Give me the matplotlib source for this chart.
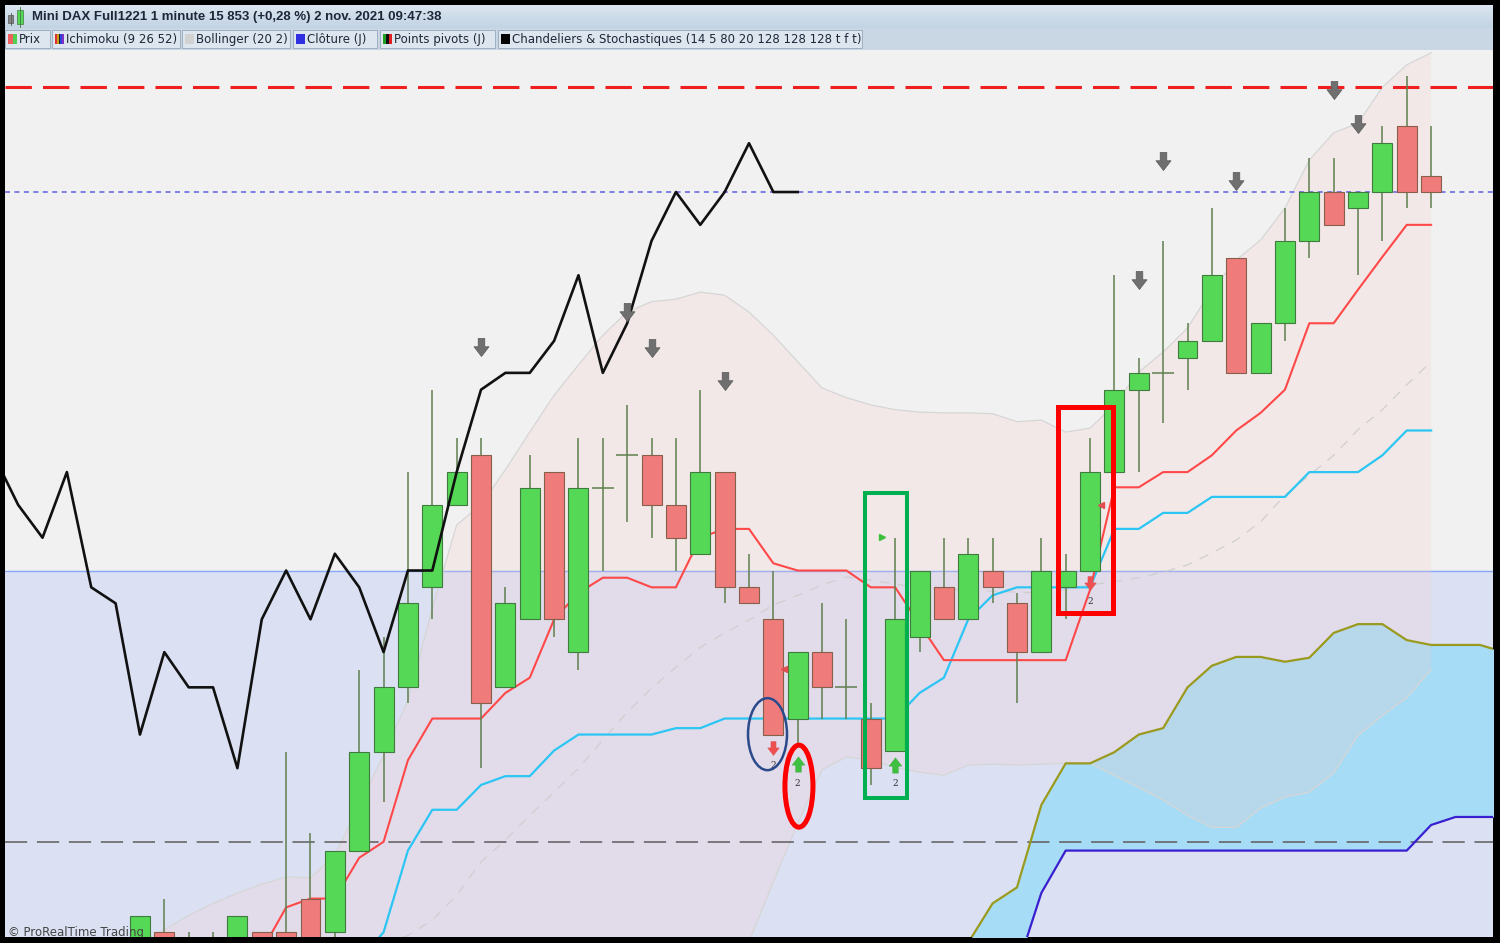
"""
Mini DAX 1 minute chart (ProRealTime style): candles, Ichimoku, Bollinger,
pivot levels and a few hand-drawn annotation shapes.
"""

import matplotlib
matplotlib.use("Agg")
import matplotlib.pyplot as plt
import numpy as np
from matplotlib.patches import Ellipse, Rectangle
from matplotlib.path import Path

plt.rcParams["lines.scale_dashes"] = False

# ===== Candles (index 0..53) =====
opens = [15757.0, 15760.5, 15759.0, 15759.2, 15757.5, 15760.5, 15760.5, 15764.7, 15760.5, 15770.7,
         15783.0, 15791.1, 15803.6, 15813.9, 15820.1, 15791.1, 15799.6, 15818.0, 15795.5, 15816.0,
         15820.1, 15820.1, 15813.9, 15807.8, 15818.0, 15803.6, 15799.6, 15787.2, 15795.5, 15791.1,
         15787.2, 15783.2, 15797.4, 15803.6, 15799.6, 15805.7, 15801.6, 15795.5, 15803.6, 15805.7,
         15818.0, 15828.3, 15830.4, 15832.3, 15834.4, 15844.8, 15830.4, 15836.6, 15846.9, 15853.0,
         15851.0, 15853.0, 15861.3, 15855.0]
highs = [15762.5, 15764.7, 15760.5, 15760.5, 15762.5, 15760.5, 15783.0, 15772.9, 15770.7, 15793.3,
         15797.4, 15818.0, 15828.3, 15822.2, 15822.2, 15803.6, 15820.1, 15818.0, 15822.2, 15822.2,
         15826.4, 15822.2, 15822.2, 15828.3, 15818.0, 15807.8, 15805.7, 15795.5, 15801.6, 15799.6,
         15789.2, 15809.8, 15805.7, 15809.8, 15809.8, 15809.8, 15802.9, 15809.8, 15807.8, 15822.2,
         15842.6, 15832.3, 15846.9, 15836.6, 15851.0, 15844.8, 15836.6, 15851.0, 15857.3, 15857.3,
         15853.0, 15861.3, 15867.5, 15861.3]
lows = [15755.8, 15757.0, 15757.0, 15757.0, 15756.0, 15756.5, 15757.0, 15757.0, 15759.8, 15770.7,
        15776.8, 15789.2, 15799.6, 15813.9, 15781.0, 15791.1, 15799.6, 15797.4, 15793.3, 15805.7,
        15811.8, 15809.8, 15805.7, 15807.8, 15801.6, 15801.6, 15785.2, 15784.1, 15787.2, 15787.2,
        15778.9, 15783.2, 15795.5, 15799.6, 15799.6, 15801.6, 15789.2, 15795.5, 15799.6, 15805.7,
        15818.0, 15818.0, 15824.1, 15828.3, 15834.4, 15830.4, 15830.4, 15834.4, 15844.8, 15848.9,
        15842.6, 15846.9, 15851.0, 15851.0]
closes = [15762.5, 15758.2, 15758.5, 15759.5, 15762.5, 15758.0, 15758.5, 15758.8, 15770.7, 15783.0,
          15791.1, 15801.6, 15813.9, 15818.0, 15789.2, 15801.6, 15816.0, 15799.6, 15816.0, 15816.0,
          15820.1, 15813.9, 15809.8, 15818.0, 15803.6, 15801.6, 15785.2, 15795.5, 15791.1, 15791.1,
          15781.0, 15799.6, 15805.7, 15799.6, 15807.8, 15803.6, 15795.5, 15805.7, 15805.7, 15818.0,
          15828.3, 15830.4, 15830.4, 15834.4, 15842.6, 15830.4, 15836.6, 15846.9, 15853.0, 15848.9,
          15853.0, 15859.1, 15853.0, 15853.0]

# ===== Ichimoku (9 26 52) =====
tenkan_start = 5
tenkan = [15758.2, 15763.6, 15764.7, 15764.7, 15769.8, 15771.8, 15782.0, 15787.2, 15787.2, 15787.2,
          15790.4, 15792.3, 15799.6, 15802.9, 15804.8, 15804.8, 15803.6, 15803.6, 15809.8, 15810.9,
          15810.9, 15806.6, 15805.7, 15805.7, 15805.7, 15803.6, 15803.6, 15799.0, 15794.5, 15794.5,
          15794.5, 15794.5, 15794.5, 15794.5, 15803.3, 15816.1, 15816.1, 15818.0, 15818.0, 15820.1,
          15823.2, 15825.4, 15828.3, 15836.6, 15836.6, 15840.8, 15844.9, 15848.9, 15848.9]
kijun_start = 9
kijun = [15757.0, 15760.5, 15770.7, 15775.8, 15775.8, 15778.9, 15780.0, 15780.0, 15783.2, 15785.2,
         15785.2, 15785.2, 15785.2, 15786.0, 15786.0, 15787.2, 15787.2, 15787.2, 15787.2, 15787.2,
         15787.2, 15787.2, 15787.2, 15790.4, 15792.3, 15799.6, 15802.6, 15803.6, 15803.6, 15803.6,
         15803.6, 15810.9, 15810.9, 15812.9, 15812.9, 15814.9, 15814.9, 15814.9, 15814.9, 15818.0,
         15818.0, 15818.0, 15820.1, 15823.2, 15823.2]
senkou_start = 33
senkou_a = [15752.0, 15759.2, 15764.1, 15766.1, 15776.4, 15781.6, 15781.6, 15783.0, 15785.2, 15786.0,
            15791.1, 15793.8, 15794.9, 15794.9, 15794.3, 15794.8, 15797.9, 15799.0, 15799.0, 15797.0,
            15796.4, 15796.4, 15796.4, 15795.5]
senkou_b = [15745.0, 15748.0, 15752.0, 15756.0, 15765.4, 15770.7, 15770.7, 15770.7, 15770.7, 15770.7,
            15770.7, 15770.7, 15770.7, 15770.7, 15770.7, 15770.7, 15770.7, 15770.7, 15770.7, 15770.7,
            15773.9, 15774.9, 15774.9, 15774.9]

# ===== Bollinger (20 2) =====
boll_upper = [15758.2, 15760.8, 15762.6, 15764.1, 15765.4, 15766.5, 15767.4, 15767.3, 15770.1, 15776.4,
              15782.6, 15789.5, 15801.0, 15811.4, 15813.9, 15818.3, 15823.0, 15827.6, 15831.4, 15835.1,
              15838.0, 15839.3, 15839.6, 15840.5, 15840.1, 15838.0, 15835.1, 15831.8, 15828.5, 15827.3,
              15826.4, 15825.8, 15825.5, 15825.4, 15825.4, 15825.3, 15824.3, 15824.5, 15823.0, 15823.5,
              15826.4, 15830.5, 15833.0, 15836.0, 15840.8, 15844.5, 15847.0, 15851.0, 15857.0, 15860.4,
              15861.6, 15866.1, 15868.9, 15870.4]
boll_lower = [15740.0, 15741.0, 15742.0, 15742.0, 15743.0, 15743.0, 15744.0, 15745.0, 15745.0, 15744.0,
              15742.0, 15740.0, 15738.0, 15736.0, 15735.0, 15736.0, 15737.0, 15738.0, 15740.0, 15742.0,
              15744.0, 15747.0, 15750.0, 15752.0, 15755.0, 15759.3, 15766.8, 15774.1, 15780.8, 15782.4,
              15782.0, 15781.1, 15780.5, 15780.1, 15781.4, 15781.5, 15781.4, 15781.5, 15781.6, 15781.6,
              15780.1, 15778.6, 15777.0, 15775.1, 15773.6, 15773.6, 15776.0, 15777.4, 15778.0, 15780.4,
              15785.1, 15787.6, 15789.8, 15793.3]
mid_start = 10
boll_mid = [15758.9, 15760.1, 15762.0, 15765.1, 15769.3, 15772.0, 15775.1, 15778.0, 15781.0, 15784.5,
            15788.0, 15791.0, 15793.6, 15796.1, 15797.9, 15799.5, 15801.4, 15802.6, 15803.9, 15804.9,
            15804.5, 15804.0, 15803.5, 15803.3, 15803.3, 15803.1, 15803.0, 15802.9, 15803.3, 15803.9,
            15804.3, 15804.8, 15805.5, 15806.4, 15807.9, 15809.5, 15811.8, 15815.1, 15817.6, 15820.1,
            15823.3, 15825.8, 15828.9, 15831.8]

# ===== Horizontal levels =====
PIVOT_R1 = 15866.1      # red dashed
LAST_PRICE = 15853.0    # blue dotted
PREV_CLOSE = 15805.7    # Clôture (J)
PIVOT_P = 15771.8       # dark dashed

# ===== Signals =====
sell_x = [14, 20, 21, 24, 41, 42, 45, 49, 50]
sell_y = [15833.6, 15838.0, 15833.5, 15829.4, 15842.0, 15856.9, 15854.4, 15865.8, 15861.5]
red_sig_x = [26, 39]
red_sig_y = [15783.5, 15804.1]
green_sig_x = [27, 31]
green_sig_y = [15781.5, 15781.4]
count_x = [26, 27, 31, 39]
count_y = [15781.9, 15779.6, 15779.6, 15802.4]
count_txt = ["2", "2", "2", "2"]
tri_red_x = [26.45, 39.45]
tri_red_y = [15793.4, 15813.9]
tri_green_x = [30.46]
tri_green_y = [15809.9]

# ===== Hand drawn marks: (x, y, width, height) =====
ellipses = [(25.76, 15785.25, 1.6, 9.0, "#2b4a8c", 1.8),
            (27.05, 15778.75, 1.15, 10.25, "#ff0000", 3.6)]
boxes = [(29.76, 15777.25, 1.73, 38.1, "#00b050", 2.9),
         (37.68, 15800.4, 2.26, 25.75, "#ff0000", 3.6)]

XLIM = (-5.54, 55.54)
YLIM = (15759.9, 15870.75)

W, H = 1500, 943
fig = plt.figure(figsize=(W / 100, H / 100), dpi=100)
fig.patch.set_facecolor("black")


def bare(a):
    a.set_xticks([])
    a.set_yticks([])
    for s in a.spines.values():
        s.set_visible(False)


ax = fig.add_axes([5 / W, 6 / H, 1488 / W, 887 / H])
ax.set_facecolor("#f1f1f1")
ax.set_xlim(*XLIM)
ax.set_ylim(*YLIM)
bare(ax)

# background zone under the previous close
ax.axhspan(YLIM[0] - 50, PREV_CLOSE, color="#dbe1f3", zorder=0)
ax.axhline(PREV_CLOSE, color="#86aaf6", lw=1.0, zorder=1)

# Kumo
sx = np.arange(senkou_start, senkou_start + len(senkou_a))
sa = np.array(senkou_a)
sb = np.array(senkou_b)
ax.fill_between(sx, sa, sb, where=sa >= sb, color="#a6dcf5", lw=0, zorder=1.2)

# Bollinger
bx = np.arange(len(boll_upper))
ax.fill_between(bx, boll_lower, boll_upper, color=(1.0, 0.78, 0.78), alpha=0.2, lw=0, zorder=1.5)
ax.plot(bx, boll_upper, color="#d6d6d6", lw=0.9, zorder=1.6)
ax.plot(bx, boll_lower, color="#d6d6d6", lw=0.9, zorder=1.6)
mx = np.arange(mid_start, mid_start + len(boll_mid))
ax.plot(mx, boll_mid, color="#cfcfcf", lw=0.9, dashes=(7, 6), zorder=1.6)

# levels
ax.axhline(PIVOT_R1, color="#f01e1e", lw=2.2, dashes=(19, 8), zorder=2)
ax.axhline(LAST_PRICE, color="#7474e6", lw=1.3, dashes=(3.6, 3.2), zorder=2)
ax.axhline(PIVOT_P, color="#5c5c5c", lw=1.1, dashes=(16, 7), zorder=2)

# Ichimoku lines
ax.plot(sx, senkou_a, color="#9a9a1e", lw=1.6, zorder=3)
ax.plot(sx, senkou_b, color="#3a1fd0", lw=1.6, zorder=3)
ax.plot(np.arange(kijun_start, kijun_start + len(kijun)), kijun, color="#2cc6f4", lw=1.6, zorder=3)
ax.plot(np.arange(tenkan_start, tenkan_start + len(tenkan)), tenkan, color="#ff4848", lw=1.5, zorder=3)

# Candles
o = np.array(opens)
c = np.array(closes)
idx = np.arange(len(o))
up = c >= o
doji = np.abs(c - o) < 0.3
ax.vlines(idx, lows, highs, color="#5f7f4f", lw=1.1, zorder=4)
body = ~doji
ax.bar(idx[body & up], (c - o)[body & up], bottom=o[body & up], width=0.82,
       color="#55d855", edgecolor="#3f7a3f", lw=0.8, zorder=5)
ax.bar(idx[body & ~up], (o - c)[body & ~up], bottom=c[body & ~up], width=0.82,
       color="#ef7b7b", edgecolor="#86604a", lw=0.8, zorder=5)
ax.hlines(c[doji], idx[doji] - 0.45, idx[doji] + 0.45, color="#5f7f4f", lw=1.1, zorder=5)

# Chikou span: close shifted 26 periods back
ax.plot(idx[20:] - 26, closes[20:], color="#111111", lw=1.9, zorder=6)

# Signal markers
down_arrow = Path([(-0.22, 0.6), (0.22, 0.6), (0.22, 0.05), (0.5, 0.05), (0, -0.6),
                   (-0.5, 0.05), (-0.22, 0.05), (-0.22, 0.6)])
up_arrow = Path([(x, -y) for x, y in down_arrow.vertices])
ax.plot(sell_x, sell_y, ls="none", marker=down_arrow, ms=13, color="#6f6f6f",
        mec="#5a5a5a", mew=0.5, zorder=7)
ax.plot(red_sig_x, red_sig_y, ls="none", marker=down_arrow, ms=10, color="#ee5050",
        mec="#e04848", mew=0.3, zorder=7)
ax.plot(green_sig_x, green_sig_y, ls="none", marker=up_arrow, ms=11, color="#3fbf3f",
        mec="#35a835", mew=0.3, zorder=7)
ax.plot(tri_red_x, tri_red_y, ls="none", marker="<", ms=4, color="#e05050", zorder=7)
ax.plot(tri_green_x, tri_green_y, ls="none", marker=">", ms=5, color="#3cc03c", zorder=7)
for x, y, t in zip(count_x, count_y, count_txt):
    ax.text(x, y, t, ha="center", va="top", fontsize=6.5, color="#333333",
            family="DejaVu Serif", zorder=7)

# annotations
for x, y, w, h, col, lw in ellipses:
    ax.add_patch(Ellipse((x, y), w, h, fill=False, ec=col, lw=lw, zorder=10))
for x, y, w, h, col, lw in boxes:
    ax.add_patch(Rectangle((x, y), w, h, fill=False, ec=col, lw=lw, zorder=10))

ax.text(0.002, 0.012, "© ProRealTime Trading", transform=ax.transAxes, ha="left", va="top",
        fontsize=8.5, color="#444444", clip_on=True, zorder=8)

# ===== Header (title bar + indicator buttons) =====
hdr = fig.add_axes([5 / W, 1 - 50 / H, 1488 / W, 45 / H])
bare(hdr)

grad = np.linspace(0, 1, 32)[:, None, None]
top_col = np.array([0.86, 0.90, 0.94])
bot_col = np.array([0.76, 0.83, 0.89])
hdr.imshow(top_col + (bot_col - top_col) * grad, extent=(0, 1488, 23, 0), aspect="auto")
hdr.add_patch(Rectangle((0, 23), 1488, 22, fc="#c9d6e3", ec="none"))
hdr.set_xlim(0, 1488)
hdr.set_ylim(45, 0)

# icon
hdr.add_patch(Rectangle((3, 10), 5, 8, fc="#888888", ec="#555555", lw=0.5))
hdr.plot([5.5, 5.5], [8, 20], color="#555555", lw=0.6)
hdr.add_patch(Rectangle((12, 5), 6, 14, fc="#55d855", ec="#3f7a3f", lw=0.5))
hdr.plot([15, 15], [2, 22], color="#3f7a3f", lw=0.6)

hdr.text(27, 12, "Mini DAX Full1221 1 minute 15 853 (+0,28 %) 2 nov. 2021 09:47:38",
         fontsize=9.5, fontweight="bold", color="#1c2838", va="center", ha="left",
         family="Liberation Sans")

button_labels = ["Prix", "Ichimoku (9 26 52)", "Bollinger (20 2)", "Clôture (J)",
                 "Points pivots (J)", "Chandeliers & Stochastiques (14 5 80 20 128 128 128 t f t)"]
button_left = [0, 47, 177, 288, 375, 493]
button_right = [45, 175, 285, 372, 490, 857]
swatches = [["#f06060", "#50d050"],
            ["#e03030", "#c8a020", "#202020", "#3040e0", "#8030c0"],
            ["#d2d2d2"],
            ["#3030e0"],
            ["#20a020", "#101010", "#e02020"],
            ["#050505"]]
for lab, x0, x1, sw in zip(button_labels, button_left, button_right, swatches):
    hdr.add_patch(Rectangle((x0, 24.5), x1 - x0, 19, fc="#dde6ef", ec="#9eafc0", lw=0.7))
    n = len(sw)
    for k, col in enumerate(sw):
        hdr.add_patch(Rectangle((x0 + 3 + 9 * k / n, 29), 9 / n, 10, fc=col, ec="none"))
    hdr.text(x0 + 14, 34.5, lab, fontsize=8.5, color="#1c2838", va="center", ha="left")

fig.savefig("out.png", dpi=100, facecolor=fig.get_facecolor())
